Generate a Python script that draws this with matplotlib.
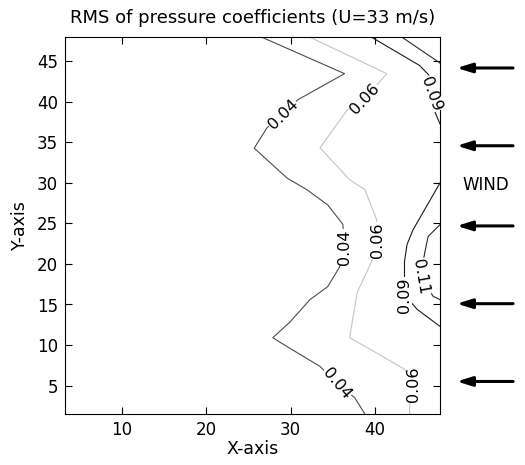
import matplotlib
matplotlib.use('Agg')
import matplotlib.pyplot as plt

plt.rcParams['font.family'] = ['DejaVu Sans']

# ===== Данные: линии уровня (x, y) =====
levels = ['0.04', '0.06', '0.09', '0.09', '0.11', '0.11']
lines_x = [
    [26.6, 36.4, 30.9, 27.2, 25.7, 29.6, 31.9, 34.4, 36.2, 36.4, 35.8, 34.4, 32.3, 29.9, 27.9, 29.6, 33.5, 35.5, 37.6, 38.8],
    [32.3, 41.4, 38.8, 36.7, 33.5, 37.0, 38.8, 40.2, 40.3, 39.6, 37.9, 37.0, 40.4, 43.5, 44.6, 44.1, 44.1],
    [39.6, 45.3, 46.5, 46.7, 47.1, 47.7],
    [47.7, 44.5, 43.8, 43.5, 43.5, 45.0, 47.7],
    [43.2, 47.3, 47.7],
    [47.7, 46.3, 45.9, 45.4, 46.9, 47.7],
]
lines_y = [
    [48.0, 43.5, 40.3, 36.8, 34.3, 30.6, 29.2, 27.3, 24.9, 22.1, 19.6, 17.2, 15.6, 12.8, 10.9, 9.8, 7.35, 5.25, 3.5, 1.5],
    [48.0, 43.5, 40.4, 39.0, 34.35, 30.4, 29.2, 25.5, 22.9, 20.3, 16.5, 10.9, 8.9, 7.0, 5.1, 2.4, 1.5],
    [48.0, 44.5, 43.2, 41.0, 38.8, 37.3],
    [30.0, 24.2, 22.4, 20.3, 16.2, 14.4, 12.3],
    [48.0, 45.1, 44.8],
    [24.85, 23.4, 21.4, 18.4, 16.0, 15.6],
]
line_colors = ['#4d4d4d', '#c4c4c4', '#1a1a1a', '#1a1a1a', '#2a2a2a', '#2a2a2a']

# подписи уровней: текст, x, y, угол
label_text = ['0.04', '0.06', '0.09', '0.04', '0.06', '0.09', '0.11', '0.04', '0.06']
label_x = [29.1, 38.8, 46.7, 36.4, 40.3, 43.5, 45.4, 35.5, 44.6]
label_y = [38.5, 40.4, 41.0, 22.1, 22.9, 16.2, 18.4, 5.25, 5.1]
label_rot = [45, 47, -70, 90, 90, 90, -80, -50, 90]

arrow_y = [44.2, 34.6, 24.7, 15.1, 5.5]

# ===== Рисунок =====
fig = plt.figure(figsize=(5.25, 4.65), dpi=100)
ax = fig.add_axes([0.124, 0.110, 0.714, 0.810])

for xs, ys, c in zip(lines_x, lines_y, line_colors):
    ax.plot(xs, ys, color=c, lw=0.8, zorder=2)

for t, x, y, r in zip(label_text, label_x, label_y, label_rot):
    ax.text(x, y, t, rotation=r, ha='center', va='center', fontsize=11.5,
            rotation_mode='anchor', zorder=3,
            bbox=dict(facecolor='white', edgecolor='none', pad=0.3))

ax.set_xlim(3.3, 47.7)
ax.set_ylim(1.5, 48.0)
ax.set_xticks([10, 20, 30, 40])
ax.set_yticks([5, 10, 15, 20, 25, 30, 35, 40, 45])
ax.tick_params(direction='in', top=True, right=True, length=5, labelsize=12, pad=5)
for s in ax.spines.values():
    s.set_linewidth(0.8)

ax.set_xlabel('X-axis', fontsize=12.5, labelpad=1)
ax.set_ylabel('Y-axis', fontsize=12.5, labelpad=6)
ax.set_title('RMS of pressure coefficients (U=33 m/s)', fontsize=13, pad=10)

# стрелки ветра
for y in arrow_y:
    ax.annotate('', xy=(1.045, y), xytext=(1.195, y),
                xycoords=('axes fraction', 'data'), textcoords=('axes fraction', 'data'),
                arrowprops=dict(arrowstyle='-|>,head_length=0.9,head_width=0.28',
                                lw=2.2, color='k', shrinkA=0, shrinkB=0),
                annotation_clip=False)
ax.text(1.123, 29.7, 'WIND', transform=ax.get_yaxis_transform(),
        ha='center', va='center', fontsize=12)

fig.savefig('out.png', dpi=100)
